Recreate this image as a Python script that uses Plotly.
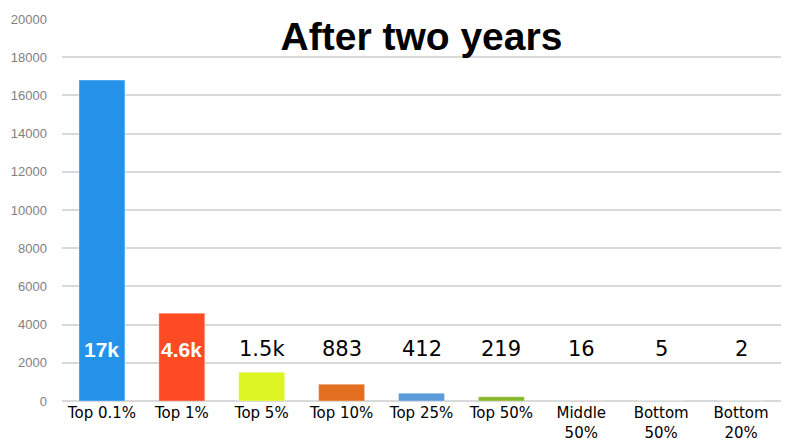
import plotly.graph_objects as go

# Data
groups = ["Top 0.1%", "Top 1%", "Top 5%", "Top 10%", "Top 25%", "Top 50%",
          "Middle<br>50%", "Bottom<br>50%", "Bottom<br>20%"]
values = [16800, 4600, 1500, 883, 412, 219, 16, 5, 2]
value_labels = ["17k", "4.6k", "1.5k", "883", "412", "219", "16", "5", "2"]
bar_colors = ["#2492E8", "#FF4B24", "#DDF522", "#E27020", "#5B9BD9", "#86B82A",
              "#9E9E9E", "#9E9E9E", "#9E9E9E"]
label_colors = ["white", "white", "black", "black", "black", "black", "black", "black", "black"]
label_bold = [True, True, False, False, False, False, False, False, False]
label_level = 2700

fig = go.Figure()

fig.add_trace(go.Bar(
    x=groups,
    y=values,
    marker=dict(color=bar_colors, line=dict(color="rgba(255,255,255,0.35)", width=1)),
    width=0.575,
    hoverinfo="x+y",
))

# value labels sit on one row across the chart
for g, lab, col, b in zip(groups, value_labels, label_colors, label_bold):
    fig.add_annotation(
        x=g, y=label_level, text=f"<b>{lab}</b>" if b else lab,
        showarrow=False,
        font=dict(family="Liberation Sans, Arial" if b else "DejaVu Sans",
                  size=21, color=col),
    )

# the page body adds an 8px offset, so margins are shifted to compensate
fig.update_layout(
    width=800, height=440,
    margin=dict(l=54, r=27, t=11, b=47),
    paper_bgcolor="white",
    plot_bgcolor="white",
    showlegend=False,
    title=dict(
        text="<b>After two years</b>",
        xref="paper", x=0.5, xanchor="center",
        y=0.936, yanchor="middle",
        font=dict(family="Liberation Sans, Arial", size=39, color="black"),
    ),
)

fig.update_yaxes(
    range=[0, 20000],
    dtick=2000,
    automargin=False,
    showgrid=True,
    gridcolor="#D9D9D9",
    gridwidth=1.5,
    zeroline=True,
    zerolinecolor="#D9D9D9",
    zerolinewidth=1.5,
    tickformat="d",
    ticks="",
    ticklabelstandoff=14,
    tickfont=dict(family="Liberation Sans, Arial", size=13, color="#7F7F7F"),
)

fig.update_xaxes(
    showgrid=False,
    automargin=False,
    ticks="",
    ticklabelstandoff=1,
    tickangle=0,
    tickfont=dict(family="DejaVu Sans", size=15, color="black"),
)

fig.write_html("out.html")
